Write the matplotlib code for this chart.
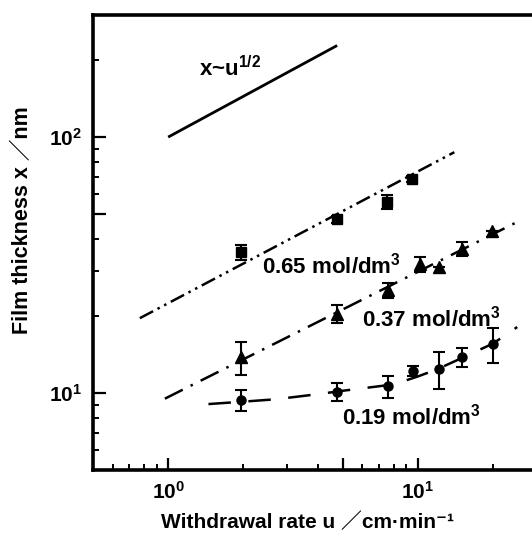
import matplotlib
matplotlib.use("Agg")
import matplotlib.pyplot as plt
from matplotlib.ticker import NullFormatter

plt.rcParams["font.family"] = ["Liberation Sans", "Noto Sans CJK JP", "DejaVu Sans"]
plt.rcParams["font.weight"] = "bold"
plt.rcParams["axes.labelweight"] = "bold"
plt.rcParams["mathtext.fontset"] = "custom"
plt.rcParams["mathtext.rm"] = "Liberation Sans:bold"
plt.rcParams["mathtext.it"] = "Liberation Sans:bold"
plt.rcParams["mathtext.bf"] = "Liberation Sans:bold"

# ---- data (u in cm/min, x in nm) ----
u_065 = [1.95, 4.75, 7.5, 9.5]
x_065 = [35.5, 47.8, 55.7, 68.5]
err_065 = [2.5, 1.5, 3.5, 2.0]
fit_u_065 = [0.77, 14.0]
fit_x_065 = [19.6, 87.3]

u_037 = [1.95, 4.75, 7.6, 10.2, 12.1, 15.0, 19.9]
x_037 = [13.8, 20.4, 25.2, 31.9, 31.0, 36.5, 43.0]
err_037 = [2.0, 1.7, 1.6, 2.2, 0.0, 2.3, 0.0]
fit_u_037 = [0.97, 25.0]
fit_x_037 = [9.5, 46.6]

u_019 = [1.95, 4.75, 7.6, 9.6, 12.2, 15.0, 20.0]
x_019 = [9.4, 10.1, 10.6, 12.2, 12.4, 13.8, 15.5]
err_019 = [0.9, 0.8, 1.0, 0.5, 2.0, 1.2, 2.4]
fit_u_019 = [1.45, 2.0, 2.7, 4.0, 5.0, 8.0, 10.0, 12.0, 15.0, 20.0, 25.0]
fit_x_019 = [9.05, 9.25, 9.45, 9.9, 10.2, 10.8, 11.6, 12.4, 13.7, 15.6, 18.1]

ref_u = [1.0, 4.75]
ref_x = [100.0, 228.0]

fig = plt.figure(figsize=(5.32, 5.37), dpi=100)
ax = fig.add_axes([93 / 532, 67 / 537, 444 / 532, 455 / 537])
ax.set_xscale("log")
ax.set_yscale("log")
ax.set_xlim(0.5, 30)
ax.set_ylim(5, 300)

lw = 1.8
ax.plot(ref_u, ref_x, color="black", lw=lw + 0.2, solid_capstyle="butt")
ax.plot(fit_u_065, fit_x_065, color="black", lw=lw,
        linestyle=(0, (6, 2, 1, 2, 1, 2)))
ax.plot(fit_u_037, fit_x_037, color="black", lw=lw,
        linestyle=(0, (8, 3.5, 1, 3.5)))
ax.plot(fit_u_019, fit_x_019, color="black", lw=lw,
        linestyle=(0, (9, 7)))

ebkw = dict(color="black", linestyle="none", elinewidth=1.5, capsize=4,
            capthick=1.5)
ax.errorbar(u_065, x_065, yerr=err_065, marker="s", markersize=7, **ebkw)
ax.errorbar(u_037, x_037, yerr=err_037, marker="^", markersize=8, **ebkw)
ax.errorbar(u_019, x_019, yerr=err_019, marker="o", markersize=6.5, **ebkw)

fs = 16
ax.text(1.33, 185, r"x~u$^{1/2}$", fontsize=fs, ha="left", va="center")
ax.text(2.38, 31.5, r"0.65 mol/dm$^3$", fontsize=fs, ha="left", va="center")
ax.text(5.97, 19.5, r"0.37 mol/dm$^3$", fontsize=fs, ha="left", va="center")
ax.text(4.97, 8.06, r"0.19 mol/dm$^3$", fontsize=fs, ha="left", va="center")

# ticks: majors at decades plus the longer marks at 5 and 50
ax.set_xticks([1, 5, 10], labels=[r"10$^0$", "", r"10$^1$"])
ax.set_yticks([10, 50, 100], labels=[r"10$^1$", "", r"10$^2$"])
ax.set_xticks([0.6, 0.7, 0.8, 0.9, 2, 3, 4, 6, 7, 8, 9, 20], minor=True)
ax.set_yticks([6, 7, 8, 9, 20, 30, 40, 60, 70, 80, 90, 200], minor=True)
ax.xaxis.set_minor_formatter(NullFormatter())
ax.yaxis.set_minor_formatter(NullFormatter())
ax.tick_params(which="major", direction="in", length=9, width=1.6,
               labelsize=15, pad=8)
ax.tick_params(which="minor", direction="in", length=4.5, width=1.4)
for s in ax.spines.values():
    s.set_linewidth(2.6)

ax.set_xlabel("Withdrawal rate u ／cm·min⁻¹", fontsize=15)
ax.set_ylabel("Film thickness x ／nm", fontsize=15.5)
ax.xaxis.set_label_coords(0.482, -0.093)
ax.yaxis.set_label_coords(-0.135, 0.55)

fig.savefig("out.png", dpi=100)
